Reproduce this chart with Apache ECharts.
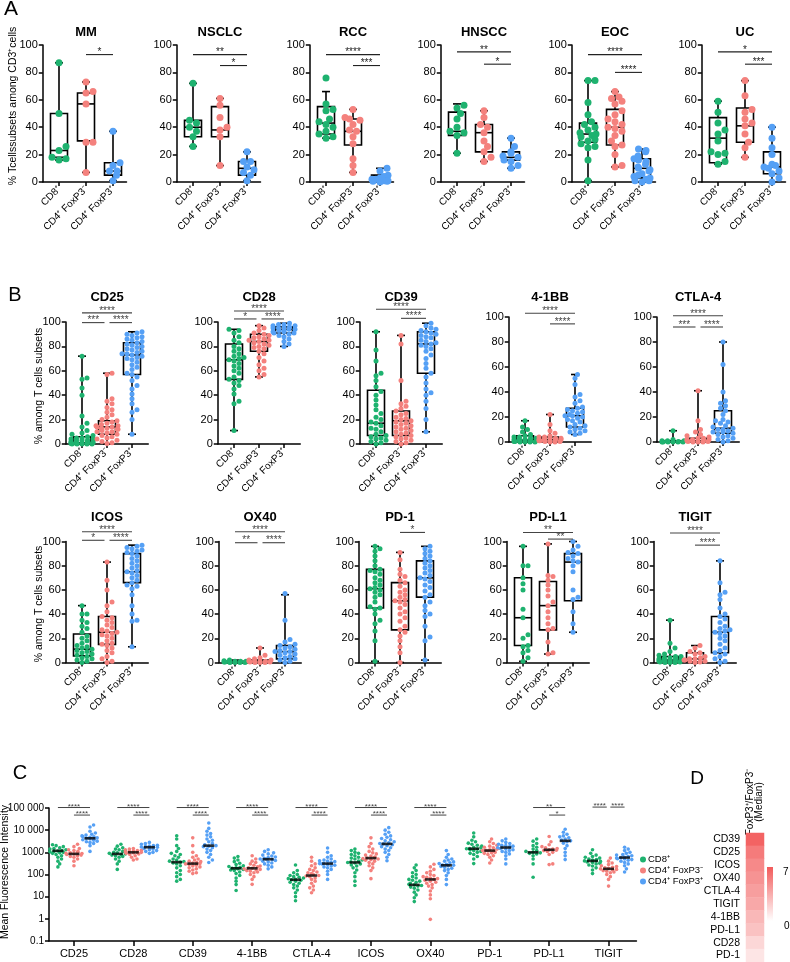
<!DOCTYPE html>
<html><head><meta charset="utf-8">
<script src="https://cdn.jsdelivr.net/npm/echarts@6/dist/echarts.min.js"></script>
<style>html,body{margin:0;padding:0;background:#fff}#c{width:790px;height:962px}</style>
</head><body><div id="c"></div>
<script>
const FONT = '"Liberation Sans", Arial, Helvetica, sans-serif';
const groups = ['CD8⁺', 'CD4⁺ FoxP3⁻', 'CD4⁺ FoxP3⁺'];
const groupColors = ['#1eb26f', '#f4817d', '#55a0f5'];

// ---------------- Panel A data ----------------
const aNames = ['MM', 'NSCLC', 'RCC', 'HNSCC', 'EOC', 'UC'];
const mmPoints = [[87, 50, 26, 23, 18, 17, 16], [73, 66, 65, 57, 29, 29, 7], [37, 14, 12, 8, 8, 5, 1]];
const mmBox = [[16, 18, 23, 50, 87], [7, 30, 57, 65, 73], [1, 5, 8, 14, 37]];
const mmSig = [[1, 2, 93, '*']];
const nsclcPoints = [[72, 45, 43, 40, 37, 33, 26], [61, 56, 47, 40, 38, 33, 12], [22, 15, 15, 11, 9, 7, 5, 1]];
const nsclcBox = [[26, 33, 40, 45, 72], [12, 33, 38, 55, 61], [1, 5, 10, 15, 22]];
const nsclcSig = [[0, 2, 93, '**'], [1, 2, 85, '*']];
const rccPoints = [[76, 57, 53, 52, 46, 44, 42, 40, 37, 35, 33, 32], [53, 47, 46, 45, 42, 38, 37, 33, 28, 17, 12, 7], [10, 8, 5, 4, 3, 2, 2, 1, 1, 0.5, 0.5, 0]];
const rccBox = [[32, 35, 43, 55, 66], [7, 27, 37, 46, 53], [0, 0.5, 2, 5, 10]];
const rccSig = [[0, 2, 93, '****'], [1, 2, 85, '***']];
const hnsccPoints = [[56, 54, 50, 46, 40, 37, 36, 34, 21], [52, 47, 42, 40, 36, 30, 26, 22, 18, 15], [32, 26, 22, 21, 19, 18, 16, 15, 12, 10]];
const hnsccBox = [[21, 34, 37, 51, 57], [15, 22, 36, 42, 52], [10, 16, 18, 22, 32]];
const hnsccSig = [[0, 2, 95, '**'], [1, 2, 86, '*']];
const eocPoints = [[74, 74, 58, 49, 44, 42, 40, 38, 36, 35, 34, 33, 31, 30, 28, 26, 25, 16, 1], [66, 62, 61, 59, 57, 52, 49, 46, 44, 42, 40, 39, 37, 34, 30, 27, 26, 20, 12, 11], [24, 23, 22, 19, 17, 16, 15, 13, 11, 10, 9, 8, 6, 5, 4, 3, 2, 1, 1, 0]];
const eocBox = [[1, 29, 35, 43, 74], [11, 27, 40, 53, 66], [0, 3, 10, 17, 24]];
const eocSig = [[0, 2, 93, '****'], [1, 2, 80, '****']];
const ucPoints = [[59, 51, 43, 38, 35, 30, 22, 21, 20, 15, 13], [74, 63, 53, 51, 46, 43, 41, 35, 29, 25, 18], [40, 32, 25, 20, 13, 12, 11, 10, 8, 6, 3, 0]];
const ucBox = [[13, 14, 32, 47, 59], [18, 29, 41, 54, 74], [0, 6, 11, 22, 40]];
const ucSig = [[0, 2, 95, '*'], [1, 2, 86, '***']];

// ---------------- Panel B data ----------------
const bNames = ['CD25', 'CD28', 'CD39', '4-1BB', 'CTLA-4', 'ICOS', 'OX40', 'PD-1', 'PD-L1', 'TIGIT'];
const cd25Points = [
  [72, 54, 53, 46, 40, 23, 17, 14, 11, 9, 8, 7, 6, 5, 5, 4, 4, 3, 3, 3, 2, 2, 2, 1, 1, 1, 1, 1, 0.5, 0.5, 0.5, 0, 0, 0, 0, 0],
  [58, 57, 37, 35, 33, 30, 28, 26, 24, 22, 20, 19, 18, 17, 16, 15, 15, 14, 14, 13, 13, 12, 12, 11, 10, 10, 9, 8, 7, 6, 5, 4, 3, 2, 1, 0.5],
  [92, 91, 90, 89, 88, 87, 86, 85, 84, 83, 82, 81, 80, 79, 78, 77, 76, 75, 74, 74, 73, 72, 71, 70, 69, 67, 65, 63, 61, 58, 57, 55, 52, 48, 45, 41, 37, 33, 28, 26, 20, 8]];
const cd25Box = [[0, 0, 1, 6, 72], [0, 8, 14, 19, 58], [8, 57, 73, 83, 92]];
const cd25Sig = [[0, 2, 107.5, '****'], [0, 1, 99.5, '***'], [1, 2, 99.5, '****']];
const cd28Points = [
  [94, 93, 91, 88, 85, 83, 80, 78, 76, 74, 72, 71, 70, 69, 68, 66, 64, 62, 60, 58, 55, 53, 52, 50, 48, 45, 41, 35, 33, 11],
  [97, 95, 93, 91, 90, 89, 88, 87, 86, 85, 85, 84, 83, 82, 81, 80, 79, 78, 76, 74, 71, 68, 65, 62, 60, 57, 55],
  [99, 98, 98, 97, 97, 96, 96, 95, 95, 94, 94, 93, 93, 92, 92, 91, 91, 90, 89, 88, 86, 84, 82, 80]];
const cd28Box = [[11, 53, 69, 82, 94], [55, 76, 84, 90, 97], [80, 91, 94, 96, 99]];
const cd28Sig = [[0, 2, 109, '****'], [0, 1, 102.5, '*'], [1, 2, 102.5, '****']];
const cd39Points = [
  [92, 77, 68, 58, 56, 52, 47, 43, 40, 36, 32, 28, 25, 22, 20, 18, 17, 15, 13, 12, 10, 8, 7, 6, 5, 4, 3, 2, 1, 0],
  [89, 82, 52, 35, 33, 31, 29, 27, 25, 24, 22, 21, 20, 19, 18, 17, 16, 15, 14, 13, 12, 11, 10, 9, 8, 7, 6, 5, 4, 3, 2, 1, 0],
  [99, 97, 95, 94, 93, 92, 91, 90, 89, 88, 87, 85, 84, 83, 82, 81, 80, 78, 76, 73, 70, 66, 62, 58, 55, 50, 45, 42, 40, 35, 29, 20, 10]];
const cd39Box = [[0, 7, 17, 44, 92], [0, 7, 19, 27, 89], [10, 58, 82, 92, 99]];
const cd39Sig = [[0, 2, 110.5, '****'], [1, 2, 103, '****']];
const bb41Points = [
  [17, 12, 10, 8, 6, 5, 4, 4, 3, 3, 2, 2, 2, 1, 1, 1, 1, 0.5, 0.5, 0, 0, 0, 0],
  [22, 14, 9, 7, 5, 4, 4, 3, 3, 3, 2, 2, 2, 2, 1, 1, 1, 1, 0.5, 0.5, 0, 0],
  [54, 51, 46, 38, 36, 33, 31, 28, 27, 26, 25, 24, 23, 22, 21, 21, 20, 19, 18, 17, 16, 14, 13, 12, 11, 10, 9, 8, 7, 6]];
const bb41Box = [[0, 0.5, 1.5, 5, 17], [0, 0.5, 2, 4, 22], [6, 12, 21, 27, 54]];
const bb41Sig = [[0, 2, 103, '****'], [1, 2, 94.5, '****']];
const ctla4Points = [
  [9, 2, 1, 1, 1, 0.5, 0.5, 0.5, 0, 0, 0, 0, 0, 0],
  [41, 17, 10, 8, 6, 5, 4, 3, 3, 2, 2, 2, 1, 1, 1, 1, 0.5, 0.5, 0, 0, 0],
  [80, 62, 40, 33, 31, 29, 27, 25, 22, 18, 17, 16, 15, 13, 12, 11, 10, 10, 9, 8, 8, 7, 6, 5, 4, 3, 2, 1, 0]];
const ctla4Box = [[0, 0, 0.5, 1, 9], [0, 0.5, 1, 3, 41], [0, 7, 11, 25, 80]];
const ctla4Sig = [[0, 2, 101, '****'], [0, 1, 92, '***'], [1, 2, 92, '****']];
const icosPoints = [
  [47, 40, 40, 35, 33, 30, 28, 25, 22, 20, 18, 16, 14, 13, 12, 11, 10, 9, 8, 7, 6, 5, 4, 3, 2, 1, 0],
  [83, 68, 60, 50, 47, 42, 38, 37, 35, 33, 31, 29, 27, 26, 25, 24, 23, 22, 20, 18, 16, 15, 14, 12, 10, 8, 5, 3, 1, 0],
  [97, 96, 95, 94, 93, 92, 91, 90, 88, 86, 84, 82, 80, 78, 76, 75, 74, 72, 70, 68, 66, 64, 63, 61, 56, 47, 40, 35, 34, 13]];
const icosBox = [[0, 5.5, 11, 23.5, 47], [0, 15, 25, 38, 83], [13, 66, 75, 90, 97]];
const icosSig = [[0, 2, 108, '****'], [0, 1, 101, '*'], [1, 2, 101, '****']];
const ox40Points = [
  [2, 1.5, 1, 1, 1, 0.5, 0.5, 0.5, 0, 0, 0, 0],
  [12, 6, 4, 3, 2, 2, 1, 1, 1, 1, 0.5, 0.5, 0, 0, 0],
  [57, 35, 19, 17, 15, 14, 13, 12, 11, 10, 9, 9, 8, 7, 6, 5, 4, 3, 2, 1, 0]];
const ox40Box = [[0, 0, 0.5, 1, 2], [0, 0.5, 1, 2, 12], [0, 3, 9, 14, 56]];
const ox40Sig = [[0, 2, 108, '****'], [0, 1, 99, '**'], [1, 2, 99, '****']];
const pd1Points = [
  [96, 94, 92, 88, 84, 80, 77, 76, 75, 73, 70, 68, 66, 64, 62, 61, 60, 58, 56, 54, 50, 46, 45, 44, 40, 35, 32, 26, 18, 1],
  [91, 85, 77, 73, 71, 68, 66, 63, 60, 58, 56, 54, 52, 51, 50, 48, 45, 42, 40, 37, 34, 30, 27, 25, 22, 18, 13, 8, 0],
  [96, 94, 92, 90, 88, 86, 84, 82, 80, 78, 76, 74, 72, 70, 69, 67, 64, 62, 59, 56, 54, 50, 47, 43, 40, 38, 30, 21, 18, 2]];
const pd1Box = [[1, 45, 61, 77, 96], [0, 27, 51, 66, 91], [2, 54, 70, 84, 96]];
const pd1Sig = [[1, 2, 107.5, '*']];
const pdl1Points = [
  [96, 80, 80, 70, 65, 60, 44, 37, 23, 20, 14, 13, 10, 8, 4, 1],
  [98, 72, 71, 68, 64, 60, 55, 50, 47, 42, 37, 32, 28, 27, 17, 8, 7],
  [100, 96, 93, 91, 90, 88, 86, 84, 83, 80, 75, 60, 54, 52, 42, 32, 25]];
const pdl1Box = [[1, 14, 37, 70, 96], [7, 27, 47, 67, 98], [25, 51, 83, 90, 100]];
const pdl1Sig = [[0, 2, 107.5, '**'], [1, 2, 102, '**']];
const tigitPoints = [
  [35, 16, 12, 9, 7, 6, 5, 5, 4, 4, 3, 3, 3, 2, 2, 2, 2, 1, 1, 1, 1, 0.5, 0.5, 0, 0, 0],
  [14, 12, 9, 8, 7, 5, 4, 3, 3, 2, 2, 1, 1, 0.5, 0],
  [84, 66, 58, 56, 52, 45, 40, 38, 36, 33, 30, 28, 27, 26, 25, 24, 22, 20, 18, 15, 12, 10, 8, 7, 5, 3, 1, 0]];
const tigitBox = [[0, 0.5, 2, 5, 35], [0, 0.5, 3, 8, 14], [0, 8, 25, 38, 84]];
const tigitSig = [[0, 2, 107, '****'], [1, 2, 97, '****']];

// ---------------- Panel C data ----------------
const cNames = ['CD25', 'CD28', 'CD39', '4-1BB', 'CTLA-4', 'ICOS', 'OX40', 'PD-1', 'PD-L1', 'TIGIT'];
const cCD25 = [[2200, 2000, 1800, 1600, 1500, 1400, 1300, 1200, 1150, 1100, 1050, 1000, 950, 900, 800, 700, 600, 500, 400, 300, 220],
  [2300, 1800, 1500, 1300, 1200, 1100, 1000, 950, 900, 880, 850, 800, 750, 700, 650, 600, 500, 400, 250],
  [17000, 14000, 9000, 7500, 6500, 6000, 5500, 5200, 5000, 4800, 4500, 4300, 4100, 3900, 3700, 3500, 3200, 3000, 2800, 2500, 2000, 1100]];
const cCD28 = [[2300, 1900, 1600, 1400, 1300, 1200, 1100, 1000, 950, 900, 850, 800, 750, 700, 650, 600, 500, 400, 300, 170],
  [1500, 1400, 1300, 1250, 1200, 1150, 1100, 1050, 1000, 980, 950, 900, 850, 800, 700, 600, 500, 450],
  [2800, 2500, 2300, 2100, 2000, 1900, 1800, 1750, 1700, 1650, 1600, 1500, 1400, 1300, 1200, 1100, 1000, 900]];
const cCD39 = [[5600, 4000, 2000, 1500, 1100, 900, 800, 700, 600, 500, 450, 400, 380, 360, 330, 300, 250, 200, 150, 120, 100, 80, 60, 50],
  [4500, 2000, 1000, 700, 600, 500, 450, 400, 380, 350, 330, 310, 300, 280, 260, 240, 220, 200, 180, 160, 140, 120, 110],
  [21000, 12000, 9000, 7000, 6000, 5000, 4000, 3500, 3000, 2500, 2200, 2000, 1900, 1800, 1600, 1400, 1200, 1000, 800, 600, 450, 350]];
const c41BB = [[650, 550, 450, 380, 320, 280, 250, 230, 210, 200, 190, 180, 170, 160, 150, 130, 110, 90, 70, 50, 35, 19],
  [700, 500, 400, 350, 300, 260, 240, 220, 200, 190, 180, 170, 160, 150, 140, 130, 120, 100, 80, 60, 36],
  [1300, 1100, 950, 850, 750, 680, 620, 580, 540, 500, 490, 460, 430, 400, 370, 330, 300, 260, 220, 180]];
const cCTLA4 = [[270, 150, 120, 100, 90, 80, 75, 70, 65, 60, 58, 55, 50, 45, 40, 35, 30, 25, 20, 15, 10, 6.5],
  [600, 400, 300, 250, 200, 170, 150, 130, 120, 110, 100, 90, 85, 80, 70, 60, 50, 40, 30, 25, 20, 15],
  [1560, 1000, 700, 600, 500, 450, 420, 400, 380, 350, 320, 310, 300, 280, 260, 240, 220, 200, 170, 140, 100, 60]];
const cICOS = [[1400, 1200, 1000, 900, 800, 700, 600, 550, 500, 450, 400, 370, 350, 330, 300, 270, 240, 200, 160, 120, 80, 50, 32],
  [4500, 2500, 1800, 1400, 1100, 950, 850, 750, 680, 620, 580, 550, 520, 500, 470, 440, 400, 350, 300, 250, 200, 150, 65],
  [13000, 10000, 8000, 6500, 5500, 4800, 4200, 3700, 3300, 3000, 2700, 2500, 2400, 2200, 2000, 1800, 1600, 1400, 1200, 1000, 800, 600, 420]];
const cOX40 = [[270, 200, 150, 120, 100, 80, 70, 60, 55, 50, 45, 40, 36, 34, 32, 30, 27, 24, 20, 16, 12, 9, 6],
  [290, 220, 170, 140, 120, 100, 90, 80, 75, 70, 65, 60, 55, 50, 45, 40, 35, 30, 25, 18, 12, 8, 0.95],
  [1200, 800, 600, 500, 450, 400, 370, 340, 310, 290, 270, 260, 250, 230, 210, 190, 170, 150, 120, 90, 60, 35]];
const cPD1 = [[7400, 5000, 3500, 3000, 2600, 2300, 2100, 1900, 1700, 1600, 1500, 1450, 1400, 1300, 1200, 1100, 1000, 900, 800, 650, 500, 310],
  [4000, 3000, 2500, 2100, 1900, 1700, 1600, 1500, 1400, 1300, 1250, 1200, 1150, 1100, 1000, 950, 900, 800, 700, 600, 450, 330],
  [4000, 3300, 2800, 2500, 2300, 2100, 2000, 1900, 1800, 1700, 1650, 1600, 1500, 1400, 1300, 1200, 1100, 1000, 850, 700, 500, 300]];
const cPDL1 = [[4000, 3200, 2500, 2000, 1700, 1400, 1200, 1100, 1000, 950, 900, 850, 700, 500, 300, 75],
  [5200, 3000, 2200, 1800, 1600, 1500, 1400, 1300, 1250, 1200, 1100, 1000, 800, 300, 280],
  [11000, 8000, 6500, 5500, 5000, 4500, 4000, 3600, 3300, 3000, 2600, 2000, 1500, 1000, 700, 470]];
const cTIGIT = [[1300, 900, 750, 650, 600, 550, 500, 470, 450, 430, 410, 390, 370, 350, 320, 300, 270, 240, 200, 160, 110],
  [550, 400, 330, 280, 250, 230, 210, 200, 190, 180, 170, 160, 150, 140, 130, 120, 100, 80, 60, 30],
  [1700, 1400, 1200, 1000, 900, 800, 750, 700, 650, 600, 580, 550, 520, 500, 470, 440, 400, 350, 300, 250, 180, 130]];
const cMedians = [[1170, 850, 4300], [850, 1000, 1700], [360, 310, 2000], [190, 190, 490], [58, 90, 310],
  [350, 550, 2400], [34, 60, 260], [1450, 1200, 1650], [1000, 1300, 3300], [410, 180, 580]];
const cSig = [[0, 0, 2, 105000, '****'], [0, 1, 2, 48000, '****'], [1, 0, 2, 105000, '****'], [1, 1, 2, 48000, '****'],
  [2, 0, 2, 105000, '****'], [2, 1, 2, 48000, '****'], [3, 0, 2, 105000, '****'], [3, 1, 2, 48000, '****'],
  [4, 0, 2, 105000, '****'], [4, 1, 2, 48000, '****'], [5, 0, 2, 105000, '****'], [5, 1, 2, 48000, '****'],
  [6, 0, 2, 105000, '****'], [6, 1, 2, 48000, '****'], [8, 0, 2, 105000, '**'], [8, 1, 2, 48000, '*'],
  [9, 0, 1, 110000, '****'], [9, 1, 2, 110000, '****']];

// ---------------- Panel D data ----------------
const dNames = ['CD39', 'CD25', 'ICOS', 'OX40', 'CTLA-4', 'TIGIT', '4-1BB', 'PD-L1', 'CD28', 'PD-1'];
const dValues = [6.6, 5.6, 5.0, 4.6, 4.1, 3.7, 3.0, 2.6, 1.7, 1.1];
const dRange = [0, 7];
const dColors = ['#ffffff', '#f25a5a'];

// ---------------- helpers ----------------
const option = {
  animation: false, backgroundColor: '#fff', textStyle: { fontFamily: FONT },
  grid: [], xAxis: [], yAxis: [], series: [], graphic: { elements: [] }
};
function addText(x, y, text, fs, opts) {
  opts = opts || {};
  option.graphic.elements.push({
    type: 'text', x, y, rotation: opts.rot || 0, silent: true,
    style: {
      text, fontSize: fs, fontWeight: opts.bold ? 'bold' : 'normal', fontFamily: FONT, fill: opts.color || '#000',
      align: opts.align || 'center', verticalAlign: opts.va || 'middle',
      textAlign: opts.align || 'center', textVerticalAlign: opts.va || 'middle', lineHeight: opts.lh || fs
    }
  });
}
function swarm(vals, yPx, d, maxOff) {
  const placed = [], res = [];
  const order = vals.map((v, i) => i).sort((a, b) => yPx(vals[a]) - yPx(vals[b]));
  order.forEach((i, n) => {
    const y = yPx(vals[i]);
    let best = null;
    for (let k = 0; k < 60; k++) {
      const off = (k % 2 === 1 ? 1 : -1) * Math.ceil(k / 2) * d * 0.5;
      if (Math.abs(off) > maxOff) continue;
      if (placed.every(p => Math.hypot(p[0] - off, p[1] - y) >= d * 0.9)) { best = off; break; }
    }
    if (best === null) best = ((n % 5) - 2) * maxOff / 2;
    placed.push([best, y]);
    res[i] = best;
  });
  return res;
}
function shrink(bars, gap) {
  return bars.map((b, i) => {
    let x1 = b[0], x2 = b[1];
    bars.forEach((o, j) => {
      if (j !== i && o[2] === b[2]) {
        if (Math.abs(o[1] - b[0]) < 1e-6) x1 += gap;
        if (Math.abs(o[0] - b[1]) < 1e-6) x2 -= gap;
      }
    });
    return [x1, x2, b[2]];
  });
}
function makeBox(halfW, halfCap, lw) {
  return function (params, api) {
    const x = api.value(0);
    const P = i => api.coord([x, api.value(i)]);
    const pMin = P(1), pQ1 = P(2), pMed = P(3), pQ3 = P(4), pMax = P(5);
    const cx = pMin[0];
    const st = { stroke: '#000', lineWidth: lw, fill: 'none' };
    return {
      type: 'group', children: [
        { type: 'line', shape: { x1: cx, y1: pMax[1], x2: cx, y2: pQ3[1] }, style: st },
        { type: 'line', shape: { x1: cx, y1: pQ1[1], x2: cx, y2: pMin[1] }, style: st },
        { type: 'line', shape: { x1: cx - halfCap, y1: pMax[1], x2: cx + halfCap, y2: pMax[1] }, style: st },
        { type: 'line', shape: { x1: cx - halfCap, y1: pMin[1], x2: cx + halfCap, y2: pMin[1] }, style: st },
        { type: 'rect', shape: { x: cx - halfW, y: pQ3[1], width: 2 * halfW, height: pQ1[1] - pQ3[1] }, style: st },
        { type: 'line', shape: { x1: cx - halfW, y1: pMed[1], x2: cx + halfW, y2: pMed[1] }, style: st }
      ]
    };
  };
}
function makeSig(texts, fs, color, lw, dy) {
  return function (params, api) {
    const a = api.coord([api.value(0), api.value(2)]);
    const b = api.coord([api.value(1), api.value(2)]);
    return {
      type: 'group', children: [
        { type: 'line', shape: { x1: a[0], y1: a[1], x2: b[0], y2: b[1] }, style: { stroke: color, lineWidth: lw } },
        { type: 'text', x: (a[0] + b[0]) / 2, y: a[1] + dy, style: { text: texts[params.dataIndex], fill: color, fontSize: fs, fontFamily: FONT, align: 'center', verticalAlign: 'bottom', textAlign: 'center', textVerticalAlign: 'bottom' } }
      ]
    };
  };
}
const axisBlack = { color: '#000', width: 1.5 };

function addBoxPanel(p) {
  const gi = option.grid.length;
  option.grid.push({ left: p.left, top: p.top, width: p.width, height: p.height, containLabel: false, outerBoundsMode: 'none' });
  option.xAxis.push({
    type: 'value', gridIndex: gi, min: p.xmin, max: p.xmax, splitLine: { show: false },
    axisLine: { show: true, onZero: false, lineStyle: axisBlack },
    axisTick: { show: true, customValues: [0, 1, 2], length: 4, lineStyle: axisBlack },
    axisLabel: { customValues: [0, 1, 2], formatter: v => groups[Math.round(v)], rotate: 45, fontSize: p.xFont, color: '#000', margin: 6, fontFamily: FONT }
  });
  option.yAxis.push({
    type: 'value', gridIndex: gi, min: 0, max: 100, interval: 20, splitLine: { show: false },
    axisLine: { show: true, onZero: false, lineStyle: axisBlack },
    axisTick: { show: true, length: 4, lineStyle: axisBlack },
    axisLabel: { fontSize: p.yFont, color: '#000', margin: 5, fontFamily: FONT }
  });
  option.series.push({
    type: 'custom', xAxisIndex: gi, yAxisIndex: gi, silent: true, z: 2,
    renderItem: makeBox(p.boxHalf, p.capHalf, 1.6),
    data: p.box.map((b, g) => [g].concat(b)), encode: { x: 0, y: [1, 2, 3, 4, 5] }
  });
  p.points.forEach((vals, g) => {
    const offs = swarm(vals, v => v * p.height / 100, p.dot, p.maxOff);
    option.series.push({
      type: 'scatter', xAxisIndex: gi, yAxisIndex: gi, silent: true, z: 3,
      symbolSize: p.dot, itemStyle: { color: groupColors[g], opacity: 1 },
      data: vals.map((v, i) => [g + offs[i] / p.unit, v])
    });
  });
  const bars = shrink(p.sig.map(s => [s[0], s[1], s[2]]), p.gap);
  option.series.push({
    type: 'custom', xAxisIndex: gi, yAxisIndex: gi, silent: true, z: 4, clip: false,
    renderItem: makeSig(p.sig.map(s => s[3]), p.starFont, p.sigColor, 1.1, 3),
    data: bars, encode: { x: [0, 1], y: 2 }
  });
  addText(p.left + (0 - p.xmin + 1) * p.unit, p.titleY, p.title, 13, { bold: true });
}

// ---------------- Panel A layout ----------------
const aPts = [mmPoints, nsclcPoints, rccPoints, hnsccPoints, eocPoints, ucPoints];
const aBox = [mmBox, nsclcBox, rccBox, hnsccBox, eocBox, ucBox];
const aSig = [mmSig, nsclcSig, rccSig, hnsccSig, eocSig, ucSig];
const aC0 = [59, 193, 326, 457, 588, 718];
aNames.forEach((n, k) => {
  const unit = 27, xmin = -0.6, xmax = 2.5;
  addBoxPanel({
    left: aC0[k] + xmin * unit, top: 45, width: (xmax - xmin) * unit, height: 137, xmin, xmax, unit,
    points: aPts[k], box: aBox[k], sig: aSig[k], title: n, titleY: 32,
    dot: 7, maxOff: 8, boxHalf: 8.5, capHalf: 4, xFont: 10, yFont: 11, starFont: 10, gap: 0.1, sigColor: '#222'
  });
});

// ---------------- Panel B layout ----------------
const bPts = [cd25Points, cd28Points, cd39Points, bb41Points, ctla4Points, icosPoints, ox40Points, pd1Points, pdl1Points, tigitPoints];
const bBox = [cd25Box, cd28Box, cd39Box, bb41Box, ctla4Box, icosBox, ox40Box, pd1Box, pdl1Box, tigitBox];
const bSig = [cd25Sig, cd28Sig, cd39Sig, bb41Sig, ctla4Sig, icosSig, ox40Sig, pd1Sig, pdl1Sig, tigitSig];
const bC0 = [82, 234, 376, 525, 673, 82, 235, 375, 523, 670];
const bTop = [322, 322, 322, 317, 317, 541.5, 541.5, 541.5, 541.5, 541.5];
const bH = [122, 122, 122, 125, 125, 121, 121, 121, 121, 121];
bNames.forEach((n, k) => {
  const unit = 25, xmin = -0.65, xmax = 2.65;
  addBoxPanel({
    left: bC0[k] + xmin * unit, top: bTop[k], width: (xmax - xmin) * unit, height: bH[k], xmin, xmax, unit,
    points: bPts[k], box: bBox[k], sig: bSig[k], title: n, titleY: k < 5 ? 297 : 517,
    dot: 5, maxOff: 11, boxHalf: 8.5, capHalf: 4, xFont: 10, yFont: 11, starFont: 10, gap: 0.1, sigColor: '#444'
  });
});

// ---------------- Panel C ----------------
(function () {
  const gi = option.grid.length;
  const unit = 59.4, xmin = -0.42, xmax = 9.47, off = 0.27;
  option.grid.push({ left: 49, top: 808, width: (xmax - xmin) * unit, height: 133, containLabel: false, outerBoundsMode: 'none' });
  const cv = cNames.map((n, i) => i);
  option.xAxis.push({
    type: 'value', gridIndex: gi, min: xmin, max: xmax, splitLine: { show: false },
    axisLine: { show: true, onZero: false, lineStyle: axisBlack },
    axisTick: { show: true, customValues: cv, length: 5, lineStyle: axisBlack },
    axisLabel: { customValues: cv, formatter: v => cNames[Math.round(v)], fontSize: 11, color: '#000', margin: 7, fontFamily: FONT }
  });
  option.yAxis.push({
    type: 'log', logBase: 10, gridIndex: gi, min: 0.1, max: 100000, splitLine: { show: false },
    axisLine: { show: true, onZero: false, lineStyle: axisBlack },
    axisTick: { show: true, length: 4, lineStyle: axisBlack },
    axisLabel: {
      fontSize: 10, color: '#000', margin: 5, fontFamily: FONT,
      formatter: v => { const n = Number(Number(v).toPrecision(3)); return n >= 10000 ? String(n).replace(/\B(?=(\d{3})+(?!\d))/g, ' ') : String(n); }
    }
  });
  const cPts = [cCD25, cCD28, cCD39, c41BB, cCTLA4, cICOS, cOX40, cPD1, cPDL1, cTIGIT];
  [0, 1, 2].forEach(g => {
    const data = [];
    cPts.forEach((grp, m) => {
      const vals = grp[g];
      const offs = swarm(vals, v => Math.log10(v) * 22.2, 3.6, 8);
      vals.forEach((v, i) => data.push([m + (g - 1) * off + offs[i] / unit, v]));
    });
    option.series.push({
      type: 'scatter', name: groups[g], xAxisIndex: gi, yAxisIndex: gi, silent: true, z: 3,
      symbolSize: 3.6, itemStyle: { color: groupColors[g], opacity: 1 }, data
    });
  });
  const med = [];
  cMedians.forEach((row, m) => row.forEach((v, g) => med.push([m + (g - 1) * off, v])));
  option.series.push({
    type: 'scatter', xAxisIndex: gi, yAxisIndex: gi, silent: true, z: 4,
    symbol: 'rect', symbolSize: [11, 2.6], itemStyle: { color: '#000' }, data: med
  });
  const bars = shrink(cSig.map(s => [s[0] + (s[1] - 1) * off, s[0] + (s[2] - 1) * off, s[3]]), 0.03);
  option.series.push({
    type: 'custom', xAxisIndex: gi, yAxisIndex: gi, silent: true, z: 4, clip: false,
    renderItem: makeSig(cSig.map(s => s[4]), 8, '#444', 1, 3),
    data: bars, encode: { x: [0, 1], y: 2 }
  });
  option.legend = {
    data: groups, orient: 'vertical', left: 640, top: 854, itemWidth: 6, itemHeight: 6, itemGap: 0, icon: 'circle',
    selectedMode: false, padding: 0, textStyle: { fontSize: 9.5, color: '#000', fontFamily: FONT, lineHeight: 11, padding: [0, 0, 0, -3] }
  };
})();

// ---------------- Panel D ----------------
(function () {
  const gi = option.grid.length;
  option.grid.push({ left: 746, top: 833, width: 18, height: 129, containLabel: false, outerBoundsMode: 'none' });
  option.xAxis.push({ type: 'category', gridIndex: gi, data: ['FoxP3⁺/FoxP3⁻'], show: false });
  option.yAxis.push({
    type: 'category', gridIndex: gi, data: dNames, inverse: true,
    axisLine: { show: false }, axisTick: { show: false }, splitLine: { show: false },
    axisLabel: { interval: 0, fontSize: 10.5, color: '#000', margin: 6, fontFamily: FONT }
  });
  const si = option.series.length;
  option.series.push({
    type: 'heatmap', xAxisIndex: gi, yAxisIndex: gi, silent: true,
    data: dValues.map((v, i) => [0, i, v]), itemStyle: { borderWidth: 0 }
  });
  option.visualMap = {
    type: 'continuous', min: dRange[0], max: dRange[1], seriesIndex: si, calculable: false, show: false,
    inRange: { color: dColors }
  };
  // colour scale bar for the visualMap range
  option.graphic.elements.push({
    type: 'rect', silent: true, shape: { x: 767, y: 867, width: 6, height: 54 },
    style: { fill: { type: 'linear', x: 0, y: 0, x2: 0, y2: 1, colorStops: [{ offset: 0, color: dColors[1] }, { offset: 1, color: dColors[0] }] } }
  });
  addText(783, 872, String(dRange[1]), 10, { align: 'left' });
  addText(784, 926, String(dRange[0]), 10, { align: 'left' });
  addText(755, 802, 'FoxP3⁺/FoxP3⁻\n(Median)', 10, { rot: Math.PI / 2, lh: 9 });
})();

// ---------------- Letters and axis names ----------------
addText(11, 9, 'A', 21);
addText(15, 295, 'B', 20);
addText(20, 773, 'C', 20);
addText(697, 779, 'D', 19);
addText(13, 106, '% Tcellssubsets among CD3⁺cells', 10.5, { rot: Math.PI / 2 });
addText(39, 386, '% among T cells subsets', 10.5, { rot: Math.PI / 2 });
addText(39, 604, '% among T cells subsets', 10.5, { rot: Math.PI / 2 });
addText(5, 872, 'Mean Fluorescence Intensity', 10.5, { rot: Math.PI / 2 });

const chart = echarts.init(document.getElementById('c'), null, { renderer: 'canvas' });
chart.setOption(option);
</script></body></html>
